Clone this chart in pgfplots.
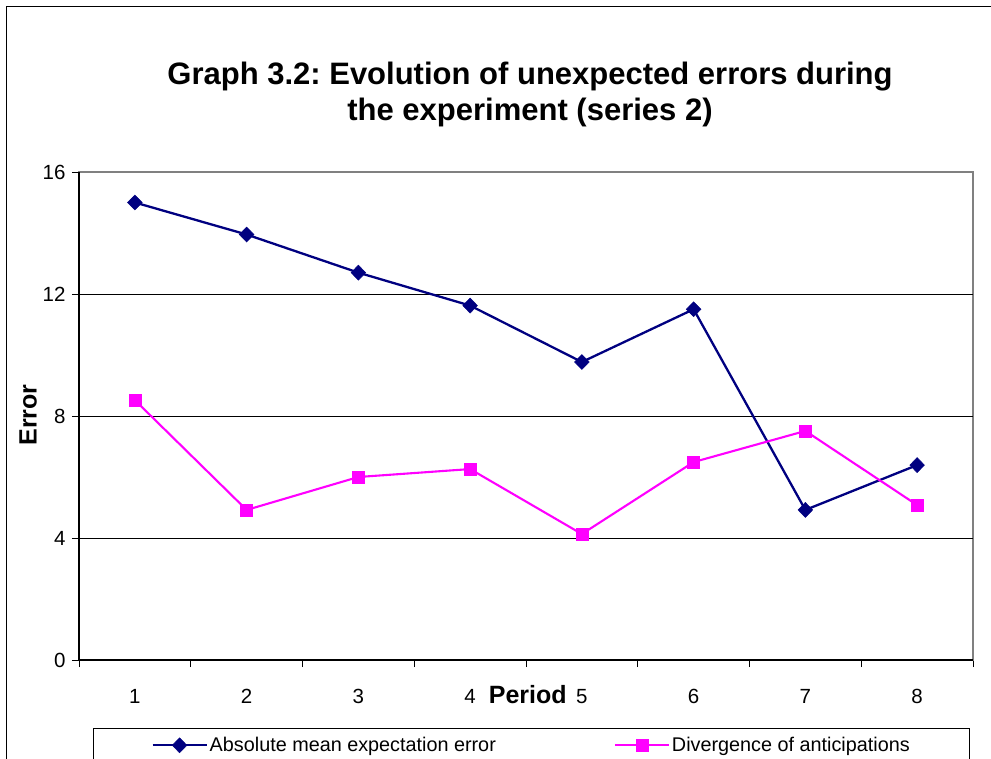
\documentclass[border=0pt]{standalone}
\usepackage{pgfplots}
\pgfplotsset{compat=1.18}
\usepackage{fontspec}
\setmainfont{Liberation Sans}
\frenchspacing
\definecolor{navyb}{RGB}{0,0,128}
\definecolor{magp}{RGB}{255,0,255}
\definecolor{framegray}{RGB}{128,128,128}
\begin{document}
\begin{tikzpicture}[x=1pt,y=1pt]
\path[use as bounding box] (0,0) rectangle (991,758);
\begin{scope}
\clip (0,0) rectangle (991,758);
\draw[black, line width=1pt] (6,-20) -- (6,751) -- (1010,751);
\end{scope}
\node[align=center, font=\fontsize{31}{36}\selectfont\bfseries] at (530,664)
  {Graph 3.2: Evolution of unexpected errors during\\the experiment (series 2)};
\begin{axis}[
  at={(79pt,98pt)}, anchor=south west,
  scale only axis, width=894pt, height=488pt,
  xmin=0.5, xmax=8.5, ymin=0, ymax=16,
  xtick={1,...,8}, major x tick style={draw=none},
  minor xtick={0.5,1.5,...,8.5},
  ytick={0,4,8,12,16},
  extra y ticks={4,8,12}, extra y tick labels={},
  extra y tick style={grid=major, major tick length=0pt, grid style={black, line width=0.8pt}},
  tick align=outside, tickpos=left,
  major tick length=7pt, minor tick length=7pt,
  tick style={black, line width=0.8pt},
  every tick label/.append style={font=\fontsize{20.5}{24}\selectfont},
  /pgf/number format/assume math mode=true,
  xticklabel style={yshift=-19pt},
  yticklabel style={xshift=-3pt},
  axis line style={framegray, line width=1.2pt},
  xlabel={Period}, ylabel={Error},
  label style={font=\fontsize{25}{28}\selectfont\bfseries},
  xlabel style={at={(axis description cs:0.502,-0.0717)}, anchor=center},
  ylabel style={at={(axis description cs:-0.057,0.502)}, anchor=center},
  legend columns=2,
  legend style={at={(axis description cs:0.0157,-0.1393)}, anchor=north west,
    draw=black, line width=0.8pt, inner xsep=58pt, inner ysep=7pt,
    font=\fontsize{19.8}{23}\selectfont,
    nodes={inner sep=2pt},
    /tikz/every even column/.append style={column sep=116pt}},
  legend image code/.code={\draw[mark repeat=2,mark phase=2,#1] plot coordinates {(0pt,0pt) (27pt,0pt) (54pt,0pt)};},
  clip=false,
]
\addplot[navyb, line width=2.3pt, mark=diamond*, mark size=7.5pt, mark options={solid, fill=navyb, line width=0.5pt, xscale=1.3}]
  coordinates {(1,15) (2,13.95) (3,12.7) (4,11.62) (5,9.77) (6,11.5) (7,4.92) (8,6.39)};
\addlegendentry{Absolute mean expectation error}
\addplot[magp, line width=2.1pt, mark=square*, mark size=6pt, mark options={solid, fill=magp, line width=0.5pt}]
  coordinates {(1,8.52) (2,4.92) (3,6.0) (4,6.26) (5,4.13) (6,6.49) (7,7.51) (8,5.08)};
\addlegendentry{Divergence of anticipations}
\draw[black, line width=1.2pt] (rel axis cs:0,1) -- (rel axis cs:0,0) -- (rel axis cs:1,0);
\end{axis}
\end{tikzpicture}
\end{document}
